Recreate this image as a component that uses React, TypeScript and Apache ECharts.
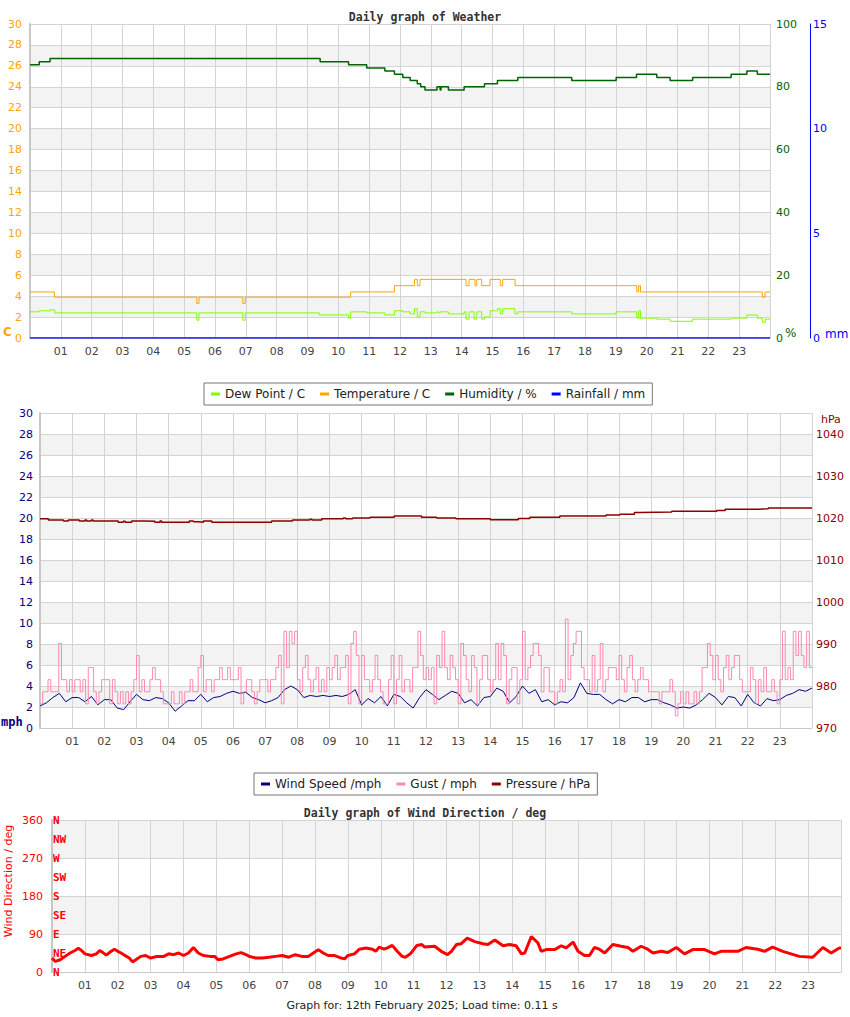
import React, { useEffect, useRef } from 'react';
import * as echarts from 'echarts';

// ---------- tick labels ----------
const HOUR_TICKS = ['01','02','03','04','05','06','07','08','09','10','11','12','13','14','15','16','17','18','19','20','21','22','23'];
const COMPASS = ['N','NE','E','SE','S','SW','W','NW','N'];

// ---------- chart 1: weather (hours of day -> value, step changes) ----------
const humidityHours = [0,0.30,0.65,9.41,10.33,10.92,11.51,11.82,12.09,12.33,12.56,12.67,12.81,13.20,13.30,13.33,13.57,14.08,14.74,15.16,15.82,17.57,19.01,19.67,20.33,20.76,21.49,22.74,23.25,23.59,24];
const humidity = [87,88,89,88,87,86,85,84,83,82,81,80,79,80,79,80,79,80,81,82,83,82,83,84,83,82,83,84,85,84,84];

const tempHours = [0,0.79,5.41,5.48,6.90,6.98,10.40,11.82,12.47,12.56,12.65,14.14,14.24,14.43,14.49,14.65,14.92,15.25,15.33,15.73,19.68,19.74,19.80,23.75,23.84,24];
const temperature = [4.4,3.9,3.3,3.9,3.3,3.9,4.4,5.0,5.6,5.0,5.6,5.0,5.6,5.0,5.6,5.0,5.6,5.0,5.6,5.0,4.4,5.0,4.4,3.9,4.4,4.4];

const dewHours = [0,0.30,0.65,0.80,5.41,5.48,6.90,6.98,9.38,10.33,10.40,10.92,11.51,11.82,12.09,12.33,12.47,12.56,12.65,12.81,13.19,13.24,13.30,13.57,14.08,14.14,14.24,14.40,14.49,14.65,14.74,14.92,15.16,15.25,15.33,15.73,15.82,17.57,19.01,19.68,19.74,19.80,20.33,20.76,21.49,22.74,23.25,23.59,23.75,23.84,24];
const dewPoint = [2.5,2.6,2.7,2.4, 1.7,2.4,1.7,2.4, 2.2,1.9,2.5,2.4, 2.2,2.6,2.5,2.3, 2.8,2.0,2.5,2.4, 2.5,2.4,2.5,2.3, 2.5,1.8,2.5,1.8, 2.5,1.8,2.0,2.6, 2.8,2.3,2.8,2.3, 2.5,2.3,2.5,1.9, 2.6,1.9,1.8,1.6, 1.8,1.9,2.2,1.9, 1.5,1.8,1.8];

const rainHours = [0, 24];
const rainfall = [0, 0];

// ---------- chart 2: wind & pressure ----------
// wind speed (mph), one reading every 0.2 h from 00:00 to 24:00
const WIND_STEP_H = 0.2;
const windSpeed = [
  2.1,2.4,2.9,3.3,2.5,
  2.9,2.9,2.5,3.0,2.2,
  2.7,2.7,1.9,1.75,2.5,
  3.2,2.7,2.6,2.9,2.8,
  2.4,1.6,2.1,2.6,2.6,
  3.2,2.5,2.9,3.0,3.3,
  3.5,3.3,3.4,2.9,2.7,
  2.4,2.6,2.9,3.65,4.0,
  3.65,2.9,3.1,3.0,3.1,
  3.0,3.1,3.0,3.2,3.65,
  2.2,2.8,2.4,3.0,2.1,
  3.2,3.0,2.4,1.9,2.9,
  3.65,3.2,2.7,3.1,3.5,
  3.3,2.4,2.7,2.1,2.9,
  3.0,3.8,3.5,2.4,3.0,
  4.0,3.3,3.65,2.5,2.7,
  2.2,2.5,2.4,2.9,4.3,
  3.3,3.2,3.2,2.7,2.3,
  2.7,2.5,2.9,2.9,2.5,
  2.7,2.7,2.4,2.2,1.9,
  2.0,1.9,2.2,2.7,3.3,
  2.9,2.2,3.0,2.9,2.1,
  3.2,2.4,2.1,2.8,2.6,
  2.7,3.1,3.3,3.65,3.5,
  3.8,
];

// gusts are reported in whole knots, one reading every 5 minutes (12 per hour)
const GUST_STEP_H = 5 / 60;
const MPH_PER_KNOT = 1.1508;
const gustKnots = [
  2,3,3,4,3,3,3,7,4,4,3,4,
  3,4,4,3,4,2,5,5,3,2,3,4,
  4,4,2,4,3,2,3,2,3,2,3,4,
  6,3,4,3,3,4,5,4,4,3,2,2,
  2,3,2,2,3,2,3,3,4,3,3,5,
  6,3,4,4,3,4,4,5,4,4,5,4,
  4,4,5,2,3,4,4,3,2,3,4,4,
  4,3,4,4,5,6,2,8,5,8,7,8,
  4,3,5,6,4,3,4,5,3,4,3,5,
  4,5,6,4,5,5,6,2,7,8,6,2,
  6,4,4,3,4,6,4,3,2,2,4,6,
  2,4,6,3,4,4,3,5,5,8,6,4,
  5,4,5,2,6,5,8,5,4,6,5,4,
  2,7,6,4,3,6,5,2,4,6,6,4,
  3,4,7,4,7,6,2,4,5,5,2,4,
  8,4,5,6,7,7,6,3,5,5,3,3,
  2,3,4,3,9,4,6,7,8,8,5,4,
  4,3,6,3,4,7,3,4,5,5,5,4,
  6,4,3,5,6,4,3,4,5,4,4,3,
  3,3,3,2,3,3,3,4,3,1,2,3,
  2,3,2,2,3,2,3,5,5,7,6,4,
  6,4,3,5,6,4,5,6,6,4,3,3,
  3,5,4,2,4,3,5,3,3,4,3,2,
  4,8,4,5,4,8,6,8,6,5,8,5,
  5,
];

const pressureHours = [0,0.26,0.73,0.88,1.22,1.40,1.45,1.60,1.65,2.43,2.59,2.65,2.85,3.23,3.57,3.73,3.78,4.64,4.77,4.94,5.08,5.34,7.20,7.85,8.39,8.45,8.76,9.43,9.50,9.72,10.26,11.01,11.86,12.33,12.93,14.00,14.87,15.23,16.16,17.60,18.03,18.48,18.65,19.64,21.04,21.30,22.33,22.64,24];
const pressure = [1019.8,1019.5,1019.3,1019.5,1019.3, 1019.5,1019.3,1019.5,1019.3,1019.0, 1019.2,1019.0,1019.3,1019.2,1019.0, 1019.3,1019.0,1019.3,1019.1,1019.0, 1019.3,1019.0,1019.3,1019.5,1019.7, 1019.5,1019.8,1020.0,1019.8,1020.0, 1020.2,1020.5,1020.2,1020.0,1019.8, 1019.6,1019.9,1020.2,1020.5,1020.7, 1020.9,1021.3,1021.4,1021.6,1021.8, 1022.1,1022.2,1022.4,1022.4];

// ---------- chart 3: wind direction ----------
const windDirHours = [
  0,0.1,0.25,0.4,0.55,0.7,0.8,0.9,1.0,1.2,
  1.35,1.45,1.55,1.65,1.8,1.9,2.0,2.1,2.2,2.35,
  2.45,2.55,2.7,2.85,3.0,3.2,3.4,3.55,3.7,3.85,
  4.0,4.15,4.3,4.45,4.6,4.8,4.95,5.05,5.2,5.4,
  5.6,5.75,5.9,6.0,6.2,6.4,6.6,6.8,7.0,7.2,
  7.4,7.6,7.8,7.95,8.1,8.25,8.4,8.6,8.8,8.9,
  9.0,9.2,9.35,9.55,9.75,9.85,9.95,10.1,10.2,10.35,
  10.5,10.65,10.75,10.9,11.0,11.1,11.25,11.34,11.64,11.84,
  12.03,12.15,12.3,12.45,12.63,12.86,13.11,13.26,13.47,13.72,
  13.92,14.12,14.28,14.38,14.58,14.78,14.88,15.03,15.29,15.49,
  15.64,15.85,16.0,16.2,16.35,16.5,16.65,16.81,17.06,17.31,
  17.52,17.67,17.92,18.12,18.28,18.53,18.73,18.99,19.24,19.49,
  19.85,20.15,20.35,20.86,21.11,21.47,21.67,21.92,22.23,22.48,
  22.73,23.14,23.45,23.7,23.95,24,
];
const windDir = [
  33,25,29,37,45,51,56,51,43,39,
  43,51,46,40,49,54,49,45,40,33,
  24,29,37,39,33,37,37,43,41,45,
  39,45,58,45,39,37,37,29,31,37,
  43,46,41,37,33,33,35,37,39,35,
  41,37,37,45,53,45,39,39,33,31,
  39,43,54,57,54,49,59,54,57,63,
  49,37,35,43,53,63,65,59,61,49,
  41,49,65,67,80,72,67,65,76,62,
  65,62,43,45,84,69,49,53,53,62,
  57,71,49,39,39,58,54,45,65,61,
  58,49,61,54,45,49,46,58,43,53,
  53,43,49,49,58,54,49,59,49,43,
  37,35,58,45,57,57,
];

// ---------- styling ----------
const FONT = 'DejaVu Sans';
const MONO = 'DejaVu Sans Mono';
const GRID_LINE = '#d4d4d4';
const BAND = ['#ffffff', '#f3f3f3'];

const zip = (xs: number[], ys: number[]) => xs.map((x, i) => [x, ys[i]]);
const even = (ys: number[], step: number) => ys.map((y, i) => [i * step, y]);

function hourAxis(gridIndex: number) {
  return {
    type: 'value', gridIndex, min: 0, max: 24, interval: 1,
    axisLine: { show: true, lineStyle: { color: '#c8c8c8', width: 1 } },
    axisTick: { show: false },
    axisLabel: {
      color: '#444', fontSize: 11, fontFamily: FONT, margin: 8,
      formatter: (v: number) => (v >= 1 && v <= 23 ? HOUR_TICKS[Math.round(v) - 1] : ''),
    },
    splitLine: { show: true, lineStyle: { color: GRID_LINE, width: 1 } },
  };
}

function mainYAxis(gridIndex: number, color: string, margin: number, max: number, interval: number) {
  return {
    type: 'value', gridIndex, position: 'left', min: 0, max, interval,
    axisLine: { show: true, lineStyle: { color: '#c8c8c8', width: 2 } },
    axisTick: { show: false },
    axisLabel: { color, fontSize: 11, fontFamily: FONT, margin },
    splitLine: { show: true, lineStyle: { color: GRID_LINE, width: 1 } },
    splitArea: { show: true, areaStyle: { color: BAND } },
  };
}

function line(name: string, color: string, data: number[][], xi: number, yi: number, extra: any = {}) {
  return {
    name, type: 'line', xAxisIndex: xi, yAxisIndex: yi, data,
    symbol: 'none', showSymbol: false, color,
    lineStyle: { color, width: 1 }, emphasis: { disabled: true }, silent: true,
    ...extra,
  };
}

const txt = (text: string, x: number, y: number, fill: string, font: string, align = 'left', rotation = 0) => ({
  type: 'text', x, y, rotation, silent: true,
  style: { text, fill, font, align, verticalAlign: 'middle', textAlign: align, textVerticalAlign: 'middle' },
});

const legendBase = {
  icon: 'rect', itemWidth: 9, itemHeight: 3, itemGap: 15,
  borderColor: '#777', borderWidth: 1, padding: [5, 7],
  backgroundColor: '#fff', orient: 'horizontal',
  textStyle: { fontSize: 12, fontFamily: FONT, color: '#222' },
  selectedMode: false,
};

const option: any = {
  animation: false,
  backgroundColor: '#fff',
  title: [
    { text: 'Daily graph of Weather', left: 'center', top: 6, textStyle: { fontFamily: MONO, fontWeight: 'bold', fontSize: 11.5, color: '#333' } },
    { text: 'Daily graph of Wind Direction / deg', left: 'center', top: 802, textStyle: { fontFamily: MONO, fontWeight: 'bold', fontSize: 11.5, color: '#333' } },
  ],
  legend: [
    { ...legendBase, left: 204, top: 383, data: ['Dew Point / C', 'Temperature / C', 'Humidity / %', 'Rainfall / mm'] },
    { ...legendBase, left: 254, top: 773, data: ['Wind Speed /mph', 'Gust / mph', 'Pressure / hPa'] },
  ],
  grid: [
    { left: 30, top: 24, width: 740, height: 314 },
    { left: 40, top: 413, width: 772, height: 315 },
    { left: 52, top: 820, width: 789, height: 152 },
  ],
  xAxis: [hourAxis(0), hourAxis(1), hourAxis(2)],
  yAxis: [
    mainYAxis(0, '#ffa500', 8, 30, 2),
    {
      type: 'value', gridIndex: 0, position: 'right', min: 0, max: 100, interval: 20,
      axisLine: { show: false }, axisTick: { show: false }, splitLine: { show: false },
      axisLabel: { color: '#006400', fontSize: 11, fontFamily: FONT, margin: 6 },
    },
    {
      type: 'value', gridIndex: 0, position: 'right', offset: 40, min: 0, max: 15, interval: 5,
      axisLine: { show: true, lineStyle: { color: '#0000ff', width: 1 } }, axisTick: { show: false }, splitLine: { show: false },
      axisLabel: { color: '#0000ff', fontSize: 11, fontFamily: FONT, margin: 3 },
    },
    mainYAxis(1, '#000080', 7, 30, 2),
    {
      type: 'value', gridIndex: 1, position: 'right', min: 970, max: 1045, interval: 10,
      axisLine: { show: false }, axisTick: { show: false }, splitLine: { show: false },
      axisLabel: { color: '#8b0000', fontSize: 11, fontFamily: FONT, margin: 4, formatter: (v: number) => (v > 1040 ? '' : String(v)) },
    },
    mainYAxis(2, '#ff0000', 9, 360, 90),
    {
      type: 'value', gridIndex: 2, position: 'left', min: 0, max: 360, interval: 45,
      axisLine: { show: false }, axisTick: { show: false }, splitLine: { show: false },
      axisLabel: {
        inside: true, margin: 1, color: '#ff0000', fontSize: 11, fontWeight: 'bold', fontFamily: MONO,
        formatter: (v: number) => COMPASS[Math.round(v / 45)],
      },
    },
  ],
  series: [
    line('Dew Point / C', '#7fff00', zip(dewHours, dewPoint), 0, 0, { step: 'end' }),
    line('Temperature / C', '#ffa500', zip(tempHours, temperature), 0, 0, { step: 'end' }),
    line('Humidity / %', '#006400', zip(humidityHours, humidity), 0, 1, { step: 'end', lineStyle: { color: '#006400', width: 1.5 } }),
    line('Rainfall / mm', '#0000ff', zip(rainHours, rainfall), 0, 2, { lineStyle: { color: '#0000ff', width: 1.5 } }),
    line('Wind Speed /mph', '#000080', even(windSpeed, WIND_STEP_H), 1, 3),
    line('Gust / mph', '#ff88b0', even(gustKnots.map((k) => k * MPH_PER_KNOT), GUST_STEP_H), 1, 3, { step: 'end' }),
    line('Pressure / hPa', '#8b0000', zip(pressureHours, pressure), 1, 4, { step: 'end', lineStyle: { color: '#8b0000', width: 1.5 } }),
    line('Wind Direction', '#ff0000', zip(windDirHours, windDir), 2, 5, { lineStyle: { color: '#ff0000', width: 3 } }),
  ],
  graphic: [
    txt('C', 3, 332, '#ffa500', `bold 12px ${FONT}`),
    txt('%', 785, 333, '#006400', `12px ${FONT}`),
    txt('mm', 825, 334, '#0000ff', `12px ${FONT}`),
    txt('mph', 1, 722, '#000080', `bold 12px ${MONO}`),
    txt('hPa', 821, 419, '#8b0000', `11px ${FONT}`),
    txt('Wind Direction / deg', 8, 881, '#ff0000', `11px ${FONT}`, 'center', Math.PI / 2),
    txt('Graph for: 12th February 2025; Load time: 0.11 s', 422, 1005, '#222', `11px ${FONT}`, 'center'),
  ],
};

export default function App() {
  const ref = useRef<HTMLDivElement>(null);
  useEffect(() => {
    const chart = echarts.init(ref.current as HTMLDivElement, null, { renderer: 'svg' });
    chart.setOption(option);
    return () => chart.dispose();
  }, []);
  return <div ref={ref} style={{ position: 'absolute', left: 0, top: 0, width: 850, height: 1017 }} />;
}
